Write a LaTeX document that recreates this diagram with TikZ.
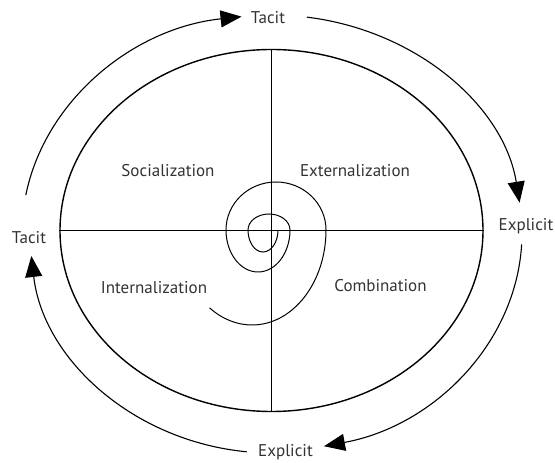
\documentclass[tikz,border=0pt]{standalone}
\usepackage{fontspec}
\setmainfont{PT Sans}
\usetikzlibrary{arrows.meta, shapes.geometric, calc}

\begin{document}
\begin{tikzpicture}[x=1pt, y=1pt,
    every node/.style={font=\fontsize{17}{19}\selectfont, text=black!80, inner sep=0pt},
    axis/.style={line width=1.4pt},
    turn/.style={line width=1pt},
    arr/.style={-{Triangle[length=21pt, width=17pt]}, line width=1.1pt},
]
\useasboundingbox (0,0) rectangle (555,463);

% the oval split into four modes
\node[ellipse, draw, line width=1.4pt, minimum width=423, minimum height=362] (oval) at (271.5,232.5) {};
\draw[axis] (oval.west) -- (oval.east);
\draw[axis] (oval.north) -- (oval.south);

\node (soc) at (168,292.5) {Socialization};
\node (ext) at (355,292) {Externalization};
\node (int) at (154,175) {Internalization};
\node (comb) at (380.5,177.5) {Combination};

% the spiral, from the middle outwards
\draw[turn] (278,233)
    arc[start angle=0, end angle=-180, x radius=15, y radius=22]
    arc[start angle=180, end angle=0, x radius=21, y radius=16]
    arc[start angle=0, end angle=-180, x radius=32, y radius=42]
    arc[start angle=180, end angle=0, x radius=50, y radius=48]
    arc[start angle=0, end angle=-125, x radius=74, y radius=95];

% outer labels
\node (tacitT) at (268,445.5) {Tacit};
\node (tacitL) at (29,225.5) {Tacit};
\node (explR) at (526,237) {Explicit};
\node (explB) at (285.5,10.5) {Explicit};

% outer arrows
\coordinate (c) at (272,230);
\coordinate (tlA) at ($(c)+(170:250 and 218)$);
\coordinate (trA) at ($(c)+(82:250 and 218)$);
\coordinate (brA) at ($(c)+(-3:250 and 218)$);
\coordinate (blA) at ($(c)+(-96:242 and 220)$);
\draw[arr] (tlA) arc[start angle=170, end angle=97, x radius=250, y radius=218];
\draw[arr] (trA) arc[start angle=82, end angle=8, x radius=250, y radius=218];
\draw[arr] (brA) arc[start angle=-3, end angle=-78, x radius=250, y radius=218];
\draw[arr] (blA) arc[start angle=-96, end angle=-174, x radius=242, y radius=220];
\end{tikzpicture}
\end{document}
